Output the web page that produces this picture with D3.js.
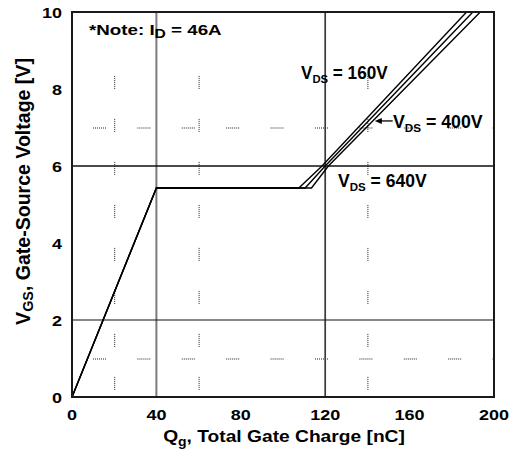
<!DOCTYPE html>
<html><head><meta charset="utf-8">
<script src="https://cdn.jsdelivr.net/npm/d3@7"></script>
<style>
body{margin:0;background:#fff}
svg{display:block}
text{font-family:"Liberation Sans",Arial,Helvetica,sans-serif;font-weight:bold;fill:#000}
</style>
</head><body>
<svg id="chart" width="517" height="453"></svg>
<script>
// ---- data ----
const qgTicks = [0, 40, 80, 120, 160, 200];
const vgsTicks = [0, 2, 4, 6, 8, 10];
const majorQg = [40, 120];
const majorV = [2, 6];
const minorQg = [20, 60, 140];
const minorV = [1, 7];
const seriesLabels = ["160V", "400V", "640V"];
const qg160 = [0, 40, 107.5, 118.5, 187];
const vgs160 = [0, 5.43, 5.43, 6, 10];
const qg400 = [0, 40, 110.5, 120, 190];
const vgs400 = [0, 5.43, 5.43, 6, 10];
const qg640 = [0, 40, 113.5, 121.5, 193.5];
const vgs640 = [0, 5.43, 5.43, 6, 10];
const noteText = "46A";

// ---- layout ----
const L = 72, R = 494, T = 12, B = 397;
const svg = d3.select("#chart");
svg.append("rect").attr("width", 517).attr("height", 453).attr("fill", "#fff");
const x = d3.scaleLinear().domain([0, 200]).range([L, R]);
const y = d3.scaleLinear().domain([0, 10]).range([B, T]);

svg.append("clipPath").attr("id", "clip").append("rect")
  .attr("x", L).attr("y", T).attr("width", R - L).attr("height", B - T);

// minor dotted grid
const dotsV = "1,1,1,1,1,1,1,1,1,1,1,1,1,30";
const dotsH = "1,1,1,1,1,1,1,1,1,1,1,1,1,31.4";
svg.append("g").selectAll("line").data(minorQg).join("line")
  .attr("x1", d => x(d) + 0.5).attr("x2", d => x(d) + 0.5)
  .attr("y1", y(9)).attr("y2", y(0))
  .attr("stroke", "#222").attr("stroke-width", 1)
  .attr("stroke-dasharray", dotsV).attr("stroke-dashoffset", 17.6);
svg.append("g").selectAll("line").data(minorV).join("line")
  .attr("y1", d => y(d) + 0.5).attr("y2", d => y(d) + 0.5)
  .attr("x1", x(0)).attr("x2", x(200))
  .attr("stroke", "#222").attr("stroke-width", 1)
  .attr("stroke-dasharray", dotsH).attr("stroke-dashoffset", 23.4);

// major grid
svg.append("g").selectAll("line").data(majorQg).join("line")
  .attr("x1", d => x(d)).attr("x2", d => x(d))
  .attr("y1", y(0)).attr("y2", y(10))
  .attr("stroke", (d, i) => i === 0 ? "#7a7a7a" : "#3a3a3a")
  .attr("stroke-width", (d, i) => i === 0 ? 2 : 1.7);
svg.append("g").selectAll("line").data(majorV).join("line")
  .attr("y1", d => y(d)).attr("y2", d => y(d))
  .attr("x1", x(0)).attr("x2", x(200))
  .attr("stroke", "#111").attr("stroke-width", (d, i) => i === 0 ? 1.2 : 1.6);

// curves
const series = [
  { q: qg160, v: vgs160 },
  { q: qg400, v: vgs400 },
  { q: qg640, v: vgs640 }
];
const line = d3.line().x(d => x(d[0])).y(d => y(d[1]));
svg.append("g").attr("clip-path", "url(#clip)").selectAll("path").data(series).join("path")
  .attr("d", s => line(s.q.map((q, i) => [q, s.v[i]])))
  .attr("fill", "none").attr("stroke", "#000").attr("stroke-width", 1.4)
  .attr("stroke-linejoin", "miter");

// frame
svg.append("rect").attr("x", L).attr("y", T).attr("width", R - L).attr("height", B - T)
  .attr("fill", "none").attr("stroke", "#1a1a1a").attr("stroke-width", 2);

// ---- text helper ----
function label(parts, opt) {
  const g = svg.append("g");
  const t = g.append("text").attr("font-size", opt.size)
    .attr("text-anchor", opt.anchor || "start");
  let shift = 0;
  parts.forEach(p => {
    const ts = t.append("tspan").text(p.t);
    if (p.sub) {
      ts.attr("font-size", p.size).attr("dy", p.dy);
      shift = p.dy;
    } else if (shift) {
      ts.attr("dy", -shift);
      shift = 0;
    }
  });
  let sx = opt.sx || 1;
  if (opt.width) sx = opt.width / t.node().getBBox().width;
  g.attr("transform", `translate(${opt.x},${opt.y}) rotate(${opt.rotate || 0}) scale(${sx},${opt.sy || 1})`);
  return g;
}

// tick labels
qgTicks.forEach(d => label([{ t: String(d) }], { x: x(d), y: 420, size: 15, anchor: "middle", sx: 1.2 }));
vgsTicks.forEach(d => label([{ t: String(d) }], { x: 62, y: y(d) + 5.5, size: 15, anchor: "end", sx: 1.2 }));

// axis titles
label([{ t: "Q" }, { t: "g", sub: true, size: 12, dy: 4 }, { t: ", Total Gate Charge [nC]" }],
  { x: 284, y: 442, size: 16.5, anchor: "middle", width: 242 });
label([{ t: "V" }, { t: "GS", sub: true, size: 14, dy: 3 }, { t: ", Gate-Source Voltage [V]" }],
  { x: 30, y: 191.5, size: 19, anchor: "middle", rotate: -90, width: 267, sy: 1.1 });

// note
label([{ t: "*Note: I" }, { t: "D", sub: true, size: 12.5, dy: 3 }, { t: " = " + noteText }],
  { x: 89, y: 35, size: 15, anchor: "start", width: 133 });

// series labels
const labelPos = [
  { x: 301, y: 79, w: 87 },
  { x: 393, y: 128, w: 90 },
  { x: 338, y: 187, w: 89 }
];
seriesLabels.forEach((s, i) => {
  label([{ t: "V" }, { t: "DS", sub: true, size: 11.5, dy: 4 }, { t: " = " + s }],
    { x: labelPos[i].x, y: labelPos[i].y, size: 17.5, anchor: "start", width: labelPos[i].w });
});

// arrow for 400V
const ax1 = x(152), ax0 = x(143.5), ay = y(7.17);
svg.append("line").attr("x1", ax1).attr("x2", ax0 + 5).attr("y1", ay).attr("y2", ay)
  .attr("stroke", "#000").attr("stroke-width", 1.3);
svg.append("path")
  .attr("d", `M${ax0},${ay} L${ax0 + 7},${ay - 3} L${ax0 + 7},${ay + 3} Z`)
  .attr("fill", "#000");
</script>
</body></html>
